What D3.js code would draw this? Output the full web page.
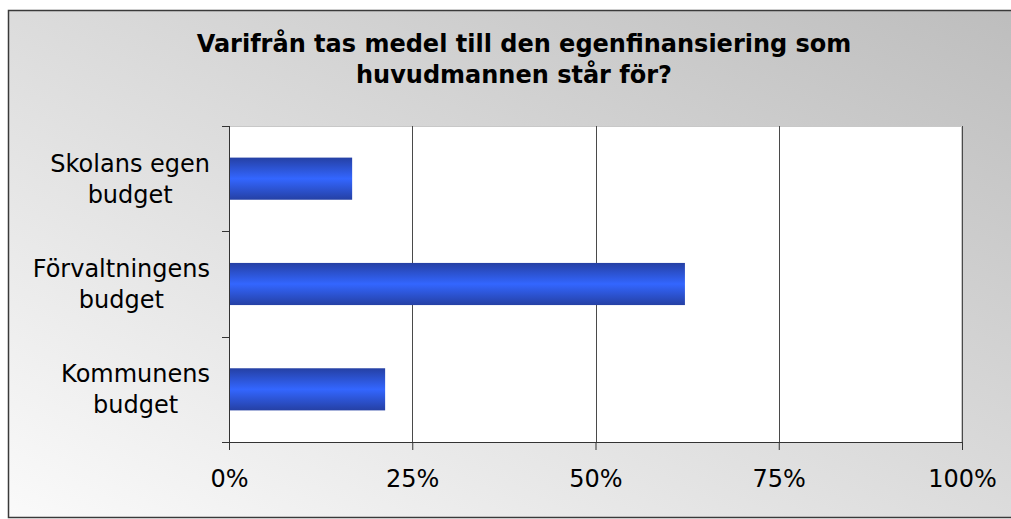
<!DOCTYPE html>
<html>
<head>
<meta charset="utf-8">
<script src="https://cdn.jsdelivr.net/npm/d3@7"></script>
<style>
  body { margin: 0; background: #ffffff; }
  text { font-family: "DejaVu Sans", Verdana, sans-serif; fill: #000; }
</style>
</head>
<body>
<div class="container"></div>
<script>
var svgWidth = 1011;
var svgHeight = 519;

// chart data
var categories = [["Skolans egen", "budget"], ["Förvaltningens", "budget"], ["Kommunens", "budget"]];
var values = [16.8, 62.2, 21.3];
var xTicks = [0, 25, 50, 75, 100];
var titleLines = ["Varifrån tas medel till den egenfinansiering som", "huvudmannen står för?"];

var margin = { top: 126, right: 49, bottom: 77, left: 229 };
var width = svgWidth - margin.left - margin.right;
var height = svgHeight - margin.top - margin.bottom;

var svg = d3.select(".container")
  .append("svg")
  .attr("width", svgWidth)
  .attr("height", svgHeight);

var defs = svg.append("defs");

// diagonal gray background
var bgGrad = defs.append("linearGradient")
  .attr("id", "bgGrad")
  .attr("x1", 0).attr("y1", 1)
  .attr("x2", 1).attr("y2", 0);
bgGrad.append("stop").attr("offset", "0%").attr("stop-color", "#fafafa");
bgGrad.append("stop").attr("offset", "100%").attr("stop-color", "#bdbdbd");

// bar gradient, dark at the edges, bright in the middle
var barGrad = defs.append("linearGradient")
  .attr("id", "barGrad")
  .attr("x1", 0).attr("y1", 0)
  .attr("x2", 0).attr("y2", 1);
barGrad.append("stop").attr("offset", "0%").attr("stop-color", "#2540a4");
barGrad.append("stop").attr("offset", "50%").attr("stop-color", "#3366ff");
barGrad.append("stop").attr("offset", "100%").attr("stop-color", "#2540a4");

svg.append("rect")
  .attr("x", 8.5)
  .attr("y", 10.5)
  .attr("width", svgWidth + 5)
  .attr("height", 507)
  .attr("fill", "url(#bgGrad)")
  .attr("stroke", "#3a3a3a")
  .attr("stroke-width", 1.5);

// title (second line sits a little left of the first, as in the original)
var titleX = [524, 514];
svg.append("g")
  .selectAll("text")
  .data(titleLines)
  .enter()
  .append("text")
  .attr("x", (d, i) => titleX[i])
  .attr("y", (d, i) => 52 + i * 31)
  .attr("text-anchor", "middle")
  .attr("font-size", "24px")
  .attr("font-weight", "bold")
  .text(d => d);

var chartGroup = svg.append("g")
  .attr("transform", `translate(${margin.left}, ${margin.top})`);

var xScale = d3.scaleLinear()
  .domain([0, 100])
  .range([0, width]);

var yScale = d3.scaleBand()
  .domain(d3.range(categories.length))
  .range([0, height])
  .paddingInner(0.6)
  .paddingOuter(0.3);

// plot area
chartGroup.append("rect")
  .attr("x", 0)
  .attr("y", 0)
  .attr("width", width)
  .attr("height", height)
  .attr("fill", "#ffffff");

chartGroup.append("path")
  .attr("d", `M0.5,0.5H${width - 0.5}V${height}`)
  .attr("fill", "none")
  .attr("stroke", "#c8c8c8");

// gridlines
chartGroup.append("g")
  .selectAll("line")
  .data(xTicks.slice(1))
  .enter()
  .append("line")
  .attr("x1", d => Math.round(xScale(d)) + 0.5)
  .attr("x2", d => Math.round(xScale(d)) + 0.5)
  .attr("y1", 0)
  .attr("y2", height)
  .attr("stroke", "#4a4a4a")
  .attr("stroke-width", 1);

// bars
chartGroup.append("g")
  .selectAll("rect")
  .data(values)
  .enter()
  .append("rect")
  .attr("x", 0)
  .attr("y", (d, i) => yScale(i))
  .attr("width", d => xScale(d))
  .attr("height", yScale.bandwidth())
  .attr("fill", "url(#barGrad)");

// x axis
var bottomAxis = d3.axisBottom(xScale)
  .tickValues(xTicks)
  .tickFormat(d => d + "%")
  .tickSize(8)
  .tickSizeOuter(0)
  .tickPadding(20);

var xAxis = chartGroup.append("g")
  .attr("transform", `translate(0, ${height})`)
  .call(bottomAxis);
xAxis.select(".domain").remove();
xAxis.append("line")
  .attr("x1", -7)
  .attr("x2", width)
  .attr("y1", 0.5)
  .attr("y2", 0.5)
  .attr("stroke", "#333");
xAxis.selectAll(".tick line").attr("stroke", "#333");
xAxis.selectAll(".tick text")
  .attr("font-size", "24px")
  .attr("font-family", "DejaVu Sans, Verdana, sans-serif")
  .attr("fill", "#000")
  .attr("dy", "0.71em");

// y axis: ticks sit on the category boundaries
var yAxis = chartGroup.append("g");
yAxis.append("line")
  .attr("x1", 0.5)
  .attr("x2", 0.5)
  .attr("y1", 0)
  .attr("y2", height)
  .attr("stroke", "#333");
var step = yScale.step();
yAxis.selectAll(".ytick")
  .data(d3.range(categories.length + 1))
  .enter()
  .append("line")
  .attr("class", "ytick")
  .attr("x1", -7)
  .attr("x2", 0)
  .attr("y1", d => Math.round(d * step) + 0.5)
  .attr("y2", d => Math.round(d * step) + 0.5)
  .attr("stroke", "#333");

// category labels: block right-aligned to the axis, lines centred in the block
var labelRight = -19;
categories.forEach(function(lines, i) {
  var cy = yScale(i) + yScale.bandwidth() / 2;
  var g = chartGroup.append("g");
  var texts = g.selectAll("text")
    .data(lines)
    .enter()
    .append("text")
    .attr("y", (d, j) => cy - 7 + j * 31)
    .attr("text-anchor", "middle")
    .attr("font-size", "24px")
    .text(d => d);
  var maxW = d3.max(texts.nodes(), n => n.getComputedTextLength());
  texts.attr("x", labelRight - maxW / 2);
});
</script>
</body>
</html>
